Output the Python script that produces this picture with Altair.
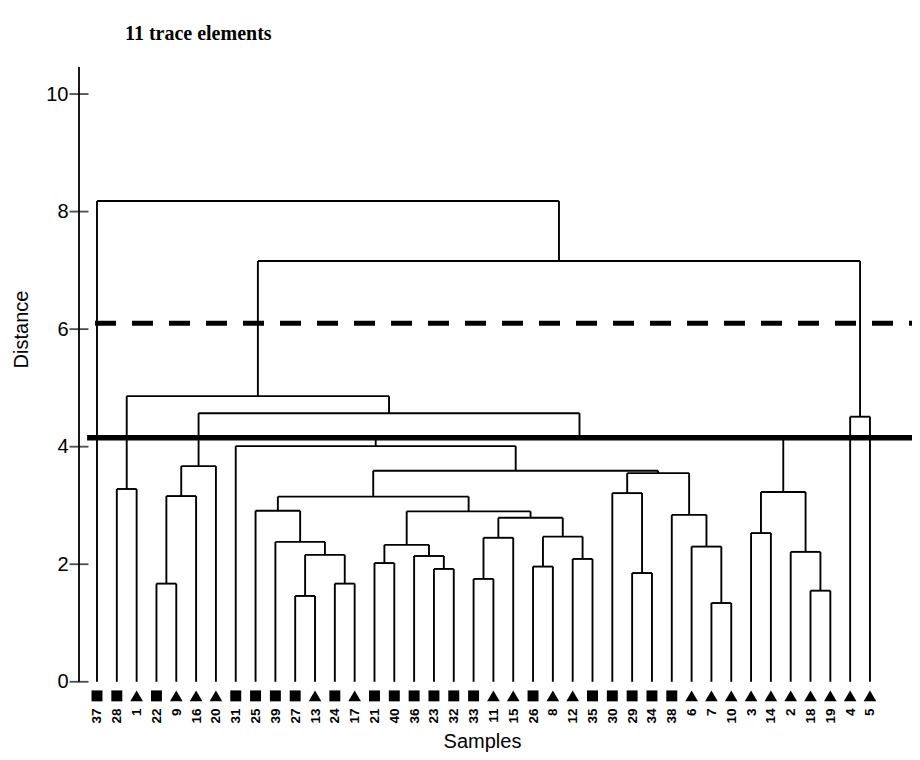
import altair as alt
import pandas as pd

# ---------------- data ----------------
leaf_labels = ["37", "28", "1", "22", "9", "16", "20", "31", "25", "39",
               "27", "13", "24", "17", "21", "40", "36", "23", "32", "33",
               "11", "15", "26", "8", "12", "35", "30", "29", "34", "38",
               "6", "7", "10", "3", "14", "2", "18", "19", "4", "5"]
leaf_groups = ["square", "square", "triangle", "square", "triangle", "triangle", "triangle", "square", "square", "square",
               "square", "triangle", "square", "triangle", "square", "square", "square", "square", "square", "square",
               "triangle", "triangle", "square", "triangle", "triangle", "square", "square", "square", "square", "square",
               "triangle", "triangle", "triangle", "triangle", "triangle", "triangle", "triangle", "triangle", "triangle", "triangle"]

# merges: (node id, left member, right member, distance)
merge_ids = ["n1", "n2", "n3", "n4", "n5", "n6", "n7", "n8", "n9", "n10",
             "n11", "n12", "n13", "n14", "n15", "n16", "n17", "n18", "n19", "n20",
             "n21", "n22", "n23", "n24", "n25", "n26", "n27", "n28", "n29", "n30",
             "n31", "n32", "n33", "n34", "n35", "n36", "n37", "n38", "n39"]
merge_left = ["22", "n1", "n2", "28", "27", "24", "n5", "39", "25", "21",
              "23", "36", "n10", "33", "n14", "26", "12", "n16", "n15", "n13",
              "n9", "29", "30", "7", "6", "38", "n23", "n21", "31", "18",
              "2", "3", "n32", "n29", "n3", "n4", "4", "n36", "37"]
merge_right = ["9", "16", "20", "1", "13", "17", "n6", "n7", "n8", "40",
               "32", "n11", "n12", "11", "15", "8", "35", "n17", "n18", "n19",
               "n20", "34", "n22", "10", "n24", "n25", "n26", "n27", "n28", "19",
               "n30", "14", "n31", "n33", "n34", "n35", "5", "n37", "n38"]
merge_height = [1.67, 3.16, 3.67, 3.28, 1.46, 1.67, 2.16, 2.38, 2.91, 2.02,
                1.92, 2.14, 2.33, 1.75, 2.45, 1.96, 2.09, 2.47, 2.79, 2.90,
                3.15, 1.85, 3.21, 1.34, 2.30, 2.84, 3.55, 3.59, 4.01, 1.55,
                2.21, 2.53, 3.23, 4.18, 4.57, 4.86, 4.51, 7.16, 8.18]

y_ticks = [0, 2, 4, 6, 8, 10]
cut_dashed = 6.1
cut_solid = 4.15

# ---------------- build segments ----------------
node_x = {lab: float(i) for i, lab in enumerate(leaf_labels)}
node_h = {lab: 0.0 for lab in leaf_labels}
segs = []
for nid, a, b, h in zip(merge_ids, merge_left, merge_right, merge_height):
    xa, xb = node_x[a], node_x[b]
    segs.append({"x": xa, "x2": xa, "y": node_h[a], "y2": h})
    segs.append({"x": xb, "x2": xb, "y": node_h[b], "y2": h})
    segs.append({"x": xa, "x2": xb, "y": h, "y2": h})
    node_x[nid] = (xa + xb) / 2
    node_h[nid] = h
seg_df = pd.DataFrame(segs)

leaf_df = pd.DataFrame({"x": list(range(len(leaf_labels))),
                        "label": leaf_labels, "group": leaf_groups})

X_MIN, X_MAX = -0.908, 41.12
Y_MIN, Y_MAX = -0.31, 10.46
MARK_Y = -0.24

label_expr = "[" + ",".join("'%s'" % s for s in leaf_labels) + "][datum.value]"

x_scale = alt.Scale(domain=[X_MIN, X_MAX], nice=False, zero=False)
y_scale = alt.Scale(domain=[Y_MIN, Y_MAX], nice=False, zero=False)

x_axis = alt.Axis(values=list(range(len(leaf_labels))), labelExpr=label_expr,
                  labelAngle=270, labelAlign="right", labelBaseline="middle",
                  labelPadding=8, ticks=False, domain=False, grid=False,
                  labelFont="Liberation Sans", labelFontSize=13.5, labelFontWeight="bold",
                  labelColor="black", labelOverlap=False, labelFlush=False,
                  title="Samples", titleFont="Liberation Sans", titleFontSize=20,
                  titleFontWeight="normal", titleColor="black", titlePadding=8,
                  titleX=403)
y_axis = alt.Axis(values=y_ticks, ticks=False, domain=False, grid=False,
                  labelPadding=11, labelFont="Liberation Sans", labelFontSize=20,
                  labelColor="black",
                  title="Distance", titleFont="Liberation Sans", titleFontSize=20,
                  titleFontWeight="normal", titleColor="black",
                  titleX=-58, titleY=262, titleAlign="center", titleBaseline="middle")

X = lambda f: alt.X(f, type="quantitative", scale=x_scale, axis=x_axis)
Y = lambda f: alt.Y(f, type="quantitative", scale=y_scale, axis=y_axis)

tree = alt.Chart(seg_df).mark_rule(color="black", strokeWidth=1.9).encode(
    x=X("x"), x2="x2", y=Y("y"), y2="y2")

axis_df = pd.DataFrame({"x": [X_MIN], "y": [0.0], "y2": [Y_MAX]})
axis_line = alt.Chart(axis_df).mark_rule(color="black", strokeWidth=1.8).encode(
    x=X("x"), y=Y("y"), y2="y2")

tick_df = pd.DataFrame({"x": [X_MIN] * len(y_ticks), "y": y_ticks})
ticks = alt.Chart(tick_df).mark_tick(orient="horizontal", size=19, thickness=1.8,
                                     color="black").encode(x=X("x"), y=Y("y"))

dash_df = pd.DataFrame({"x": [-0.1], "x2": [X_MAX], "y": [cut_dashed]})
dashed = alt.Chart(dash_df).mark_rule(color="black", strokeWidth=5,
                                      strokeDash=[21, 16], strokeCap="butt").encode(
    x=X("x"), x2="x2", y=Y("y"))

solid_df = pd.DataFrame({"x": [-0.5], "x2": [X_MAX], "y": [cut_solid]})
solid = alt.Chart(solid_df).mark_rule(color="black", strokeWidth=5.5,
                                      strokeCap="butt").encode(
    x=X("x"), x2="x2", y=Y("y"))

leaf_df["my"] = MARK_Y
markers = alt.Chart(leaf_df).mark_point(filled=True, opacity=1, color="black").encode(
    x=X("x"), y=Y("my"),
    shape=alt.Shape("group:N", scale=alt.Scale(domain=["square", "triangle"],
                                               range=["square", "triangle-up"]),
                    legend=None),
    size=alt.Size("group:N", scale=alt.Scale(domain=["square", "triangle"],
                                             range=[120, 160]), legend=None))

chart = alt.layer(tree, axis_line, ticks, dashed, solid, markers).properties(
    width=833, height=633,
    padding={"left": 71, "top": 59, "right": 0, "bottom": 58},
    autosize=alt.AutoSizeParams(type="none"),
    title=alt.Title("11 trace elements", font="Liberation Serif", fontSize=20,
                    fontWeight="bold", color="black", anchor="start", frame="group",
                    dx=46, dy=20, offset=26, baseline="alphabetic"),
    background="white",
).configure_view(stroke=None)

chart.save("out.html", embed_options={"renderer": "svg", "actions": False})
